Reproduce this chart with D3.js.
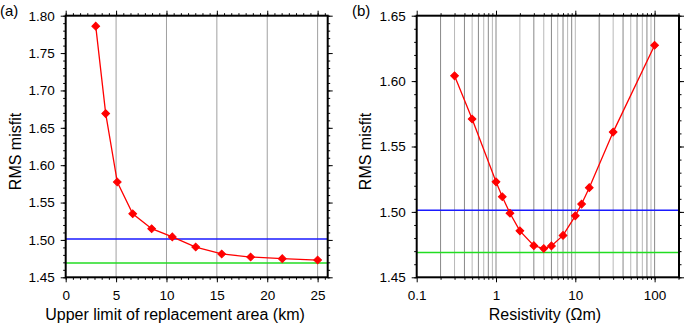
<!DOCTYPE html>
<html><head><meta charset="utf-8">
<script src="https://cdn.jsdelivr.net/npm/d3@7"></script>
<style>body{margin:0;background:#fff}svg{display:block}text{font-family:"Liberation Sans",Arial,Helvetica,sans-serif;fill:#000}</style>
</head><body><svg id="c" width="685" height="326"></svg>
<script>
// Panel (a)
const aX = [2.98, 3.97, 5.12, 6.65, 8.53, 10.58, 12.9, 15.48, 18.35, 21.49, 25.0];
const aY = [1.786, 1.669, 1.5775, 1.535, 1.515, 1.504, 1.4905, 1.4812, 1.4771, 1.4749, 1.4731];
const aXTicks = [0, 5, 10, 15, 20, 25];
const aYTicks = [1.45, 1.50, 1.55, 1.60, 1.65, 1.70, 1.75, 1.80];
// Panel (b)
const bX = [0.3, 0.5, 1.0, 1.2, 1.5, 2, 3, 4, 5, 7, 10, 12, 15, 30, 100];
const bY = [1.604, 1.571, 1.523, 1.5116, 1.499, 1.4855, 1.4742, 1.472, 1.474, 1.482, 1.497, 1.506, 1.5185, 1.561, 1.6274];
const bXTicks = [0.1, 1, 10, 100];
const bYTicks = [1.45, 1.50, 1.55, 1.60, 1.65];
// reference levels
const blueLevel = 1.5013;
const greenLevel = 1.469;

const svg = d3.select("#c");
const fmt = d3.format(".2f");

function panel(opt) {
  const g = svg.append("g");
  const {x, y, xs, ys} = opt;
  const [x0, x1] = x.range();
  const [yB, yT] = y.range();
  // gridlines
  g.append("g").selectAll("line").data(opt.grid).join("line")
    .attr("x1", d => x(d)).attr("x2", d => x(d)).attr("y1", yB).attr("y2", yT)
    .attr("stroke", (d, i) => opt.gridColor(d, i)).attr("stroke-width", 1);
  // reference lines
  [[blueLevel, "#1a1aff"], [greenLevel, "#22dd22"]].forEach(([v, c]) => {
    g.append("line").attr("x1", x0).attr("x2", x1).attr("y1", y(v)).attr("y2", y(v))
      .attr("stroke", c).attr("stroke-width", 1.5);
  });
  // data line
  const pts = xs.map((d, i) => [d, ys[i]]);
  g.append("path").datum(pts).attr("fill", "none").attr("stroke", "#ff0000").attr("stroke-width", 1.3)
    .attr("d", d3.line().x(d => x(d[0])).y(d => y(d[1])));
  const sym = d3.symbol().type(d3.symbolSquare).size(30);
  g.append("g").selectAll("path").data(pts).join("path")
    .attr("transform", d => `translate(${x(d[0])},${y(d[1])}) rotate(45)`)
    .attr("d", sym).attr("fill", "#ff0000").attr("stroke", "#ff0000").attr("stroke-width", 1);
  // axes
  const axB = d3.axisBottom(x).tickValues(opt.xTicks).tickFormat(opt.xFmt).tickSize(5).tickPadding(8);
  const axT = d3.axisTop(x).tickValues(opt.xTicks).tickFormat("").tickSize(5);
  const axL = d3.axisLeft(y).tickValues(opt.yTicks).tickFormat(fmt).tickSize(5).tickPadding(6);
  const axR = d3.axisRight(y).tickValues(opt.yTicks).tickFormat("").tickSize(5);
  const mB = d3.axisBottom(x).tickValues(opt.xMinor).tickFormat("").tickSize(2.5);
  const mT = d3.axisTop(x).tickValues(opt.xMinor).tickFormat("").tickSize(2.5);
  const mL = d3.axisLeft(y).tickValues(opt.yMinor).tickFormat("").tickSize(2.5);
  const mR = d3.axisRight(y).tickValues(opt.yMinor).tickFormat("").tickSize(2.5);
  const style = s => { s.select(".domain").remove(); s.selectAll("line").attr("stroke", "#000").attr("stroke-width", 1);
    s.selectAll("text").style("font-size", "13.5px").attr("fill", "#000"); };
  g.append("g").attr("transform", `translate(0,${yB})`).call(axB).call(style);
  g.append("g").attr("transform", `translate(0,${yB})`).call(mB).call(style);
  g.append("g").attr("transform", `translate(0,${yT})`).call(axT).call(style);
  g.append("g").attr("transform", `translate(0,${yT})`).call(mT).call(style);
  g.append("g").attr("transform", `translate(${x0},0)`).call(axL).call(style);
  g.append("g").attr("transform", `translate(${x0},0)`).call(mL).call(style);
  g.append("g").attr("transform", `translate(${x1},0)`).call(axR).call(style);
  g.append("g").attr("transform", `translate(${x1},0)`).call(mR).call(style);
  // frame
  g.append("rect").attr("x", x0).attr("y", yT).attr("width", x1 - x0).attr("height", yB - yT)
    .attr("fill", "none").attr("stroke", "#000").attr("stroke-width", 2);
  // titles
  g.append("text").attr("x", opt.xTitleX).attr("y", 319.5).attr("text-anchor", "middle")
    .style("font-size", "16px").text(opt.xTitle);
  g.append("text").attr("transform", `translate(${opt.yTitleX},${(yB + yT) / 2 + 5}) rotate(-90)`)
    .attr("text-anchor", "middle").style("font-size", "16px").text("RMS misfit");
  g.append("text").attr("x", opt.labX).attr("y", 16).style("font-size", "15px").text(opt.label);
}

const xa = d3.scaleLinear().domain([0, 26]).range([65.7, 327.7]);
const ya = d3.scaleLinear().domain([1.45, 1.80]).range([277.3, 15.7]);
panel({
  x: xa, y: ya, xs: aX, ys: aY, xTicks: aXTicks, yTicks: aYTicks,
  xFmt: d3.format("d"),
  xMinor: d3.range(0, 26.01, 5 / 7), yMinor: d3.range(1.45, 1.8001, 0.01),
  grid: aXTicks.slice(1), gridColor: () => "#a0a0a0",
  xTitle: "Upper limit of replacement area (km)", xTitleX: 175, yTitleX: 21, label: "(a)", labX: 0
});

const xb = d3.scaleLog().domain([0.1, 203]).range([416.7, 679]);
const yb = d3.scaleLinear().domain([1.45, 1.65]).range([277.3, 15.7]);
const bGrid = [];
[0.1, 1, 10, 100].forEach(dec => { for (let k = 1; k <= 9; k++) { const v = dec * k; if (v > 0.1 && v <= 100) bGrid.push(v); } });
panel({
  x: xb, y: yb, xs: bX, ys: bY, xTicks: bXTicks, yTicks: bYTicks,
  xFmt: d => d < 1 ? "0.1" : d3.format("d")(d),
  xMinor: bGrid.concat([200]), yMinor: d3.range(1.45, 1.6501, 0.01),
  grid: bGrid, gridColor: (d, i) => i % 2 ? "#b8b8b8" : "#888888",
  xTitle: "Resistivity (\u03A9m)", xTitleX: 545, yTitleX: 371, label: "(b)", labX: 352
});
</script></body></html>
